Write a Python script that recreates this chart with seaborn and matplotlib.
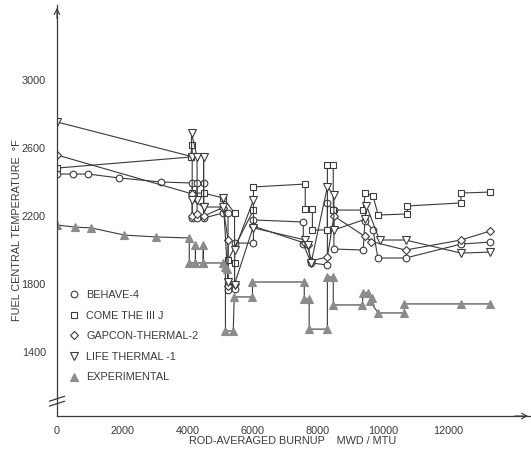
import numpy as np
import pandas as pd
import matplotlib.pyplot as plt
import seaborn as sns
from matplotlib.lines import Line2D

# values: burnup (MWD/MTU) and temperature (F),
# listed in the order the original connects them
behave_burnup = [0, 500, 950, 1900, 3200, 4150, 4150, 4300, 4300, 4500, 4500, 5100, 5250, 5250,
                 5450, 5450, 6030, 6030, 7560, 7560, 7800, 8300, 8300, 8500, 8500, 9400, 9450,
                 9700, 9850, 10700, 12400, 13300]
behave_temp = [2447, 2447, 2447, 2424, 2400, 2394, 2188, 2188, 2394, 2394, 2188, 2218, 2218, 1765,
               1770, 2041, 2041, 2177, 2165, 2035, 1924, 1912, 2276, 2235, 2006, 2000, 2170,
               2120, 1953, 1953, 2035, 2047]

comethe_burnup = [0, 4100, 4150, 4150, 4500, 5100, 5450, 5450, 5250, 6030, 6030, 7620, 7620, 7840,
                  7840, 8300, 8300, 8480, 8480, 9400, 9460, 9700, 9860, 10750, 10750, 12400, 12400,
                  13300]
comethe_temp = [2482, 2547, 2618, 2335, 2335, 2306, 2218, 1924, 1941, 2235, 2371, 2388, 2241, 2241,
                2118, 2118, 2500, 2500, 2235, 2235, 2335, 2318, 2206, 2212, 2259, 2277, 2335,
                2341]

gapcon_burnup = [0, 4150, 4150, 4300, 4500, 5100, 5250, 5250, 5450, 6030, 7600, 7700, 7800, 8300,
                 8500, 9450, 9650, 10700, 12400, 13300]
gapcon_temp = [2559, 2330, 2200, 2210, 2200, 2250, 2060, 1790, 1800, 2140, 2041, 2030, 1935, 1960,
               2200, 2080, 2050, 2000, 2059, 2112]

life_burnup = [0, 4130, 4130, 4300, 4300, 4150, 4500, 4500, 4500, 5100, 5100, 5250, 5450, 5450,
               6030, 6030, 7600, 7700, 7800, 8300, 8500, 8500, 9450, 9500, 9900, 10700, 12400,
               13300]
life_temp = [2753, 2550, 2688, 2547, 2294, 2294, 2253, 2547, 2253, 2253, 2306, 1812, 1794, 2000,
             2294, 2130, 2060, 2030, 1924, 2371, 2324, 2118, 2180, 2260, 2059, 2059, 1982,
             1988]

exp_burnup = [0, 540, 1050, 2070, 3050, 4060, 4060, 4250, 4250, 4250, 4490, 4490, 4490, 5100,
              5230, 5170, 5170, 5410, 5440, 6000, 6000, 7590, 7590, 7740, 7740, 8300, 8300, 8480,
              8480, 9370, 9400, 9550, 9680, 9600, 9860, 10660, 10660, 12400, 13300]
exp_temp = [2147, 2135, 2130, 2088, 2077, 2071, 1924, 1924, 2030, 1924, 1924, 2030, 1924, 1924,
            1890, 1900, 1524, 1524, 1724, 1724, 1812, 1812, 1712, 1712, 1535, 1535, 1842, 1842,
            1677, 1677, 1747, 1750, 1720, 1700, 1630, 1630, 1683, 1683, 1683]

labels = ['BEHAVE-4', 'COME THE III J', 'GAPCON-THERMAL-2', 'LIFE THERMAL -1', 'EXPERIMENTAL']
xticks = [0, 2000, 4000, 6000, 8000, 10000, 12000]
yticks = [1400, 1800, 2200, 2600, 3000]

sns.set_style('white')
plt.rcParams['font.family'] = ['Liberation Sans', 'DejaVu Sans']

ink = '#3a3a3a'
grey = '#8c8c8c'

fig = plt.figure(figsize=(5.31, 4.62), dpi=100)
ax = fig.add_axes([57 / 531, 46 / 462, 474 / 531, 411 / 462])

series = [
    (behave_burnup, behave_temp, 'o', 'white', ink, 4.8),
    (comethe_burnup, comethe_temp, 's', 'white', ink, 4.8),
    (gapcon_burnup, gapcon_temp, 'D', 'white', ink, 4.5),
    (life_burnup, life_temp, 'v', 'white', ink, 5.2),
    (exp_burnup, exp_temp, '^', grey, grey, 5.5),
]
for bx, by, m, fc, ec, ms in series:
    sns.lineplot(x=bx, y=by, sort=False, estimator=None, ax=ax, color=ink, lw=0.8,
                 marker=m, markersize=ms, markerfacecolor=fc, markeredgecolor=ec,
                 markeredgewidth=0.8)

ax.set_xlim(0, 14550)
ax.set_ylim(1024, 3441)
ax.set_xticks(xticks)
ax.set_yticks(yticks)
ax.tick_params(direction='in', length=5, width=0.8, colors=ink, labelsize=7.8)
ax.tick_params(axis='y', pad=8)
ax.tick_params(axis='x', pad=7)
for s in ['top', 'right']:
    ax.spines[s].set_visible(False)
for s in ['left', 'bottom']:
    ax.spines[s].set_color(ink)
    ax.spines[s].set_linewidth(0.9)

# axis arrows
ax.annotate('', xy=(0, 1.0), xytext=(0, 0.96), xycoords='axes fraction',
            arrowprops=dict(arrowstyle='->', lw=0.8, color=ink))
ax.annotate('', xy=(1.0, 0), xytext=(0.96, 0), xycoords='axes fraction',
            arrowprops=dict(arrowstyle='->', lw=0.8, color=ink))
# break marks on the temperature axis
for yb in [0.030, 0.042]:
    ax.plot([-0.016, 0.016], [yb - 0.006, yb + 0.006], transform=ax.transAxes,
            clip_on=False, color=ink, lw=0.9)

handles = [Line2D([], [], ls='none', marker=m, markersize=ms, markerfacecolor=fc,
                  markeredgecolor=ec, markeredgewidth=0.8)
           for _, _, m, fc, ec, ms in series]
ax.legend(handles, labels, loc='upper left', bbox_to_anchor=(69 / 531, 1 - 290 / 462),
          bbox_transform=fig.transFigure, frameon=False, fontsize=7.8, borderpad=0,
          borderaxespad=0, handlelength=0.9, handletextpad=0.7, labelspacing=0.98,
          labelcolor=ink)

fig.text(17 / 531, 1 - 230 / 462, 'FUEL CENTRAL TEMPERATURE  \u00b0F', rotation=90,
         ha='center', va='center', fontsize=7.8, color=ink)
fig.text(293 / 531, 1 - 441 / 462, 'ROD-AVERAGED BURNUP    MWD / MTU', ha='center',
         va='center', fontsize=7.8, color=ink)

fig.savefig('out.png', dpi=100)
